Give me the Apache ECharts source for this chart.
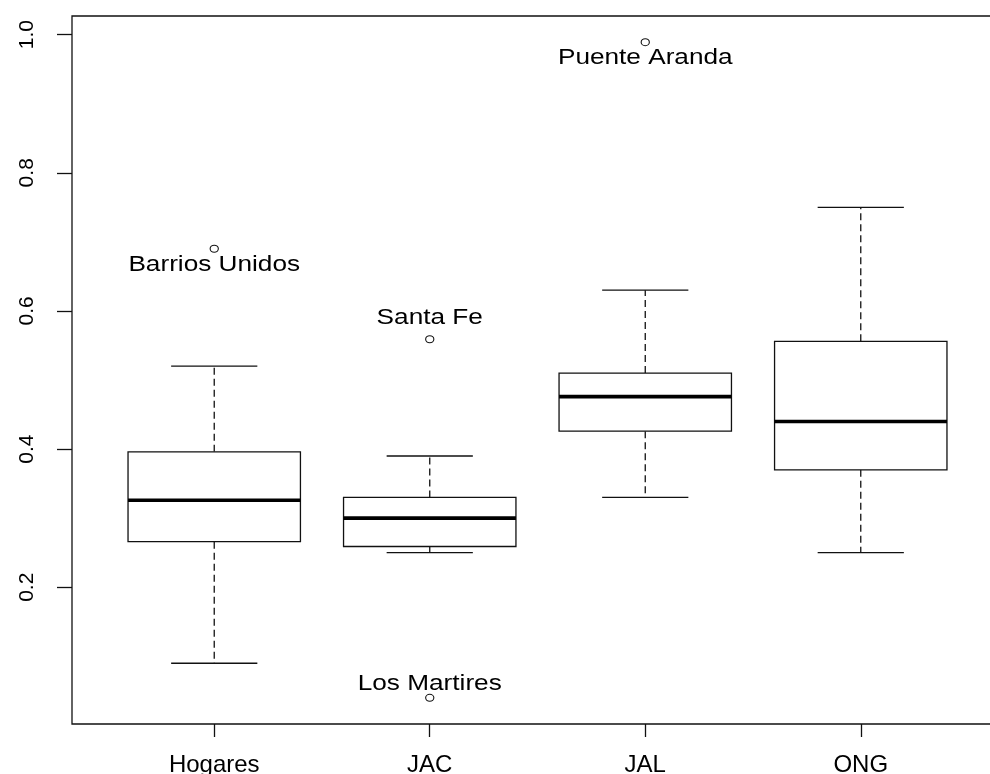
<!DOCTYPE html>
<html><head><meta charset="utf-8">
<script src="https://cdn.jsdelivr.net/npm/echarts@6/dist/echarts.min.js"></script>
<style>html,body{margin:0;padding:0;background:#fff;overflow:hidden;width:990px;height:774px}#c{width:1012px;height:774px}</style>
</head><body><div id="c"></div>
<script>
// ---- data ----
const categories = ['Hogares', 'JAC', 'JAL', 'ONG'];
const lowerWhisker  = [0.090, 0.250, 0.330, 0.250];
const lowerQuartile = [0.266, 0.259, 0.426, 0.370];
const medians       = [0.326, 0.300, 0.476, 0.440];
const upperQuartile = [0.396, 0.330, 0.510, 0.556];
const upperWhisker  = [0.520, 0.390, 0.630, 0.750];
const outlierNames  = ['Barrios Unidos', 'Santa Fe', 'Los Martires', 'Puente Aranda'];
const outlierGroups = ['Hogares', 'JAC', 'JAC', 'JAL'];
const outlierValues = [0.690, 0.559, 0.040, 0.989];
const yTicks = [0.2, 0.4, 0.6, 0.8, 1.0];

// ---- styling (not data) ----
const outlierLabelDy = [16, -21, -14, 16];
const textStretch = 1.19;
const FONT = '"Liberation Sans", Arial, sans-serif';

// R style axis extents (4% extension)
const allVals = lowerWhisker.concat(upperWhisker, outlierValues);
const dMin = Math.min.apply(null, allVals), dMax = Math.max.apply(null, allVals);
const yMin = dMin - 0.04 * (dMax - dMin), yMax = dMax + 0.04 * (dMax - dMin);
const xMin = 0.5 - 0.04 * categories.length, xMax = categories.length + 0.5 + 0.04 * categories.length;

const boxData = categories.map((c, i) => [i + 1, lowerWhisker[i], lowerQuartile[i], medians[i], upperQuartile[i], upperWhisker[i]]);
const outlierData = outlierValues.map((v, i) => [categories.indexOf(outlierGroups[i]) + 1, v, i]);

const chart = echarts.init(document.getElementById('c'), null, {renderer: 'canvas'});
const lineStyle = {stroke: '#111', lineWidth: 1.3};

chart.setOption({
  animation: false,
  backgroundColor: '#fff',
  grid: {left: 72, top: 16, width: 931, height: 708, outerBoundsMode: 'none', containLabel: false,
    show: true, borderColor: '#111', borderWidth: 1.3, backgroundColor: 'transparent'},
  xAxis: {
    type: 'value', min: xMin, max: xMax,
    splitLine: {show: false},
    axisLine: {show: false},
    axisTick: {show: true, length: 13, customValues: categories.map((c, i) => i + 1), lineStyle: {color: '#111', width: 1.3}},
    axisLabel: {
      customValues: categories.map((c, i) => i + 1),
      formatter: v => categories[Math.round(v) - 1] || '',
      fontSize: 24, fontFamily: FONT, color: '#000', margin: 29
    }
  },
  yAxis: {
    type: 'value', min: yMin, max: yMax,
    splitLine: {show: false},
    axisLine: {show: false},
    axisTick: {show: true, length: 15, customValues: yTicks, lineStyle: {color: '#111', width: 1.3}},
    axisLabel: {
      customValues: yTicks,
      formatter: v => v.toFixed(1),
      rotate: 90, fontSize: 21, fontFamily: FONT, color: '#000', margin: 34
    }
  },
  series: [
    {
      type: 'custom',
      data: boxData,
      clip: false,
      renderItem: function (params, api) {
        const x = api.value(0);
        const pLo = api.coord([x, api.value(1)]);
        const pQ1 = api.coord([x, api.value(2)]);
        const pMed = api.coord([x, api.value(3)]);
        const pQ3 = api.coord([x, api.value(4)]);
        const pHi = api.coord([x, api.value(5)]);
        const bw = api.size([0.8, 0])[0];
        const cw = bw / 2;
        const cx = pMed[0];
        return {
          type: 'group',
          children: [
            {type: 'line', shape: {x1: cx, y1: pQ3[1], x2: cx, y2: pHi[1]}, style: Object.assign({lineDash: [7, 4]}, lineStyle)},
            {type: 'line', shape: {x1: cx, y1: pQ1[1], x2: cx, y2: pLo[1]}, style: Object.assign({lineDash: [7, 4]}, lineStyle)},
            {type: 'line', shape: {x1: cx - cw / 2, y1: pHi[1], x2: cx + cw / 2, y2: pHi[1]}, style: lineStyle},
            {type: 'line', shape: {x1: cx - cw / 2, y1: pLo[1], x2: cx + cw / 2, y2: pLo[1]}, style: lineStyle},
            {type: 'rect', shape: {x: cx - bw / 2, y: pQ3[1], width: bw, height: pQ1[1] - pQ3[1]}, style: Object.assign({fill: '#fff'}, lineStyle)},
            {type: 'line', shape: {x1: cx - bw / 2, y1: pMed[1], x2: cx + bw / 2, y2: pMed[1]}, style: {stroke: '#000', lineWidth: 3.6}}
          ]
        };
      }
    },
    {
      type: 'custom',
      data: outlierData,
      clip: false,
      renderItem: function (params, api) {
        const p = api.coord([api.value(0), api.value(1)]);
        const idx = api.value(2);
        return {
          type: 'group',
          children: [
            {type: 'text', x: p[0], y: p[1] + outlierLabelDy[idx], scaleX: textStretch,
              style: {text: outlierNames[idx], x: 0, y: 0, align: 'center', verticalAlign: 'middle', fill: '#000', font: '22px ' + FONT}},
            {type: 'ellipse', shape: {cx: p[0], cy: p[1], rx: 4.1, ry: 3.5}, style: {fill: 'none', stroke: '#111', lineWidth: 1.1}}
          ]
        };
      }
    }
  ]
});
</script>
</body></html>
